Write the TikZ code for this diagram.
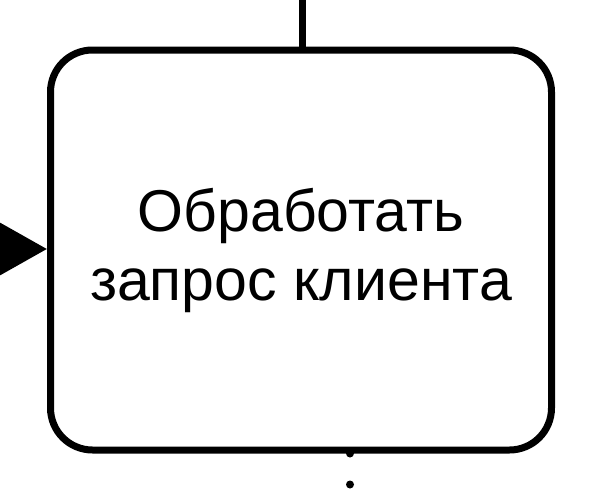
\documentclass[tikz,border=0pt]{standalone}
\usepackage{fontspec}
\setmainfont{Liberation Sans}
\usetikzlibrary{arrows.meta}
\begin{document}
\begin{tikzpicture}[x=1pt,y=1pt,
  taskbox/.style={draw=black, line width=7pt, rounded corners=42pt, fill=white,
    minimum width=501pt, minimum height=400pt, inner sep=0pt, align=center,
    font=\fontsize{59}{69}\selectfont},
  flowline/.style={draw=black, line width=7pt},
  dotline/.style={draw=black, line width=8pt, line cap=round, dash pattern=on 0pt off 31pt}]
\useasboundingbox (0,0) rectangle (600,-490);
\node[taskbox] (task) at (301,-250) {Обработать\\запрос клиента};
\coordinate (topin) at (302,20);
\coordinate (leftin) at (-30,-249);
\coordinate (botout) at (350,-520);
\draw[flowline] (topin) -- (task.north -| topin);
\draw[flowline, -{Triangle[length=48pt,width=52pt]}] (leftin) -- (task.west |- leftin);
\draw[dotline] (task.south -| botout) -- (botout);
\end{tikzpicture}
\end{document}
